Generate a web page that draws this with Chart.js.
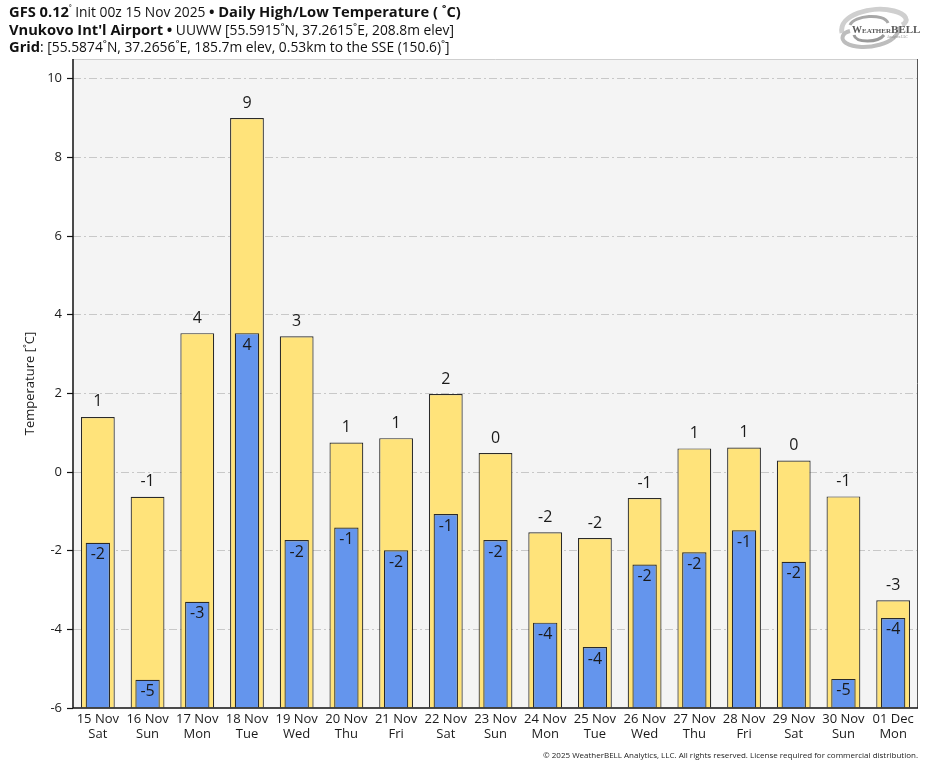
<!DOCTYPE html>
<html>
<head>
<meta charset="utf-8">
<script src="https://cdn.jsdelivr.net/npm/chart.js@4.4.1/dist/chart.umd.min.js"></script>
<style>
  html, body { margin: 0; padding: 0; background: #ffffff; }
  body { width: 935px; height: 768px; position: relative; overflow: hidden; font-family: "Open Sans", "Noto Sans", sans-serif; }
  #wrap { position: absolute; left: 0; top: 0; width: 935px; height: 768px; }
  #hdr { position: absolute; left: 9px; top: 3px; font-size: 13.8px; line-height: 16.5px; color: #111; white-space: nowrap; }
  #hdr b { font-weight: 700; font-size: 14.7px; }
  #hdr sup { font-size: 9px; vertical-align: 5px; line-height: 0; }
  #foot { position: absolute; right: 17px; top: 749px; font-size: 8px; color: #222; white-space: nowrap; }
  #logo { position: absolute; left: 832px; top: 3px; width: 95px; height: 52px; }
</style>
</head>
<body>
<div id="wrap"><canvas id="c" width="935" height="768"></canvas></div>
<div id="hdr">
  <div><b>GFS 0.12</b><sup>˚</sup> Init 00z 15 Nov 2025 <b>•</b> <b>Daily High/Low Temperature ( ˚C)</b></div>
  <div><b>Vnukovo Int'l Airport</b> <b>•</b> UUWW [55.5915˚N, 37.2615˚E, 208.8m elev]</div>
  <div><b>Grid</b>: [55.5874˚N, 37.2656˚E, 185.7m elev, 0.53km to the SSE (150.6)˚]</div>
</div>
<svg id="logo" viewBox="0 0 95 52">
  <path d="M10 30 C 6 12, 40 2, 62 8 C 74 11, 78 18, 70 22" fill="none" stroke="#cfcfcf" stroke-width="5"/>
  <path d="M66 24 C 70 40, 30 50, 14 40 C 8 36, 10 30, 18 28" fill="none" stroke="#bdbdbd" stroke-width="4"/>
  <path d="M18 22 C 22 12, 52 10, 56 20" fill="none" stroke="#a8a8a8" stroke-width="3"/>
  <path d="M52 32 C 46 40, 24 40, 22 32" fill="none" stroke="#9a9a9a" stroke-width="3"/>
  <text x="20" y="30" font-family="Liberation Serif, DejaVu Serif, serif" font-size="10" font-weight="700" fill="#5a5a5a">W<tspan font-size="7">EATHER</tspan><tspan font-size="11">BELL</tspan></text>
  <text x="55" y="35" font-family="Liberation Serif, serif" font-size="3.5" fill="#888">Analytics LLC</text>
</svg>
<div id="foot">© 2025 WeatherBELL Analytics, LLC. All rights reserved. License required for commercial distribution.</div>
<script>
const dates = ["15 Nov","16 Nov","17 Nov","18 Nov","19 Nov","20 Nov","21 Nov","22 Nov","23 Nov","24 Nov","25 Nov","26 Nov","27 Nov","28 Nov","29 Nov","30 Nov","01 Dec"];
const weekdays = ["Sat","Sun","Mon","Tue","Wed","Thu","Fri","Sat","Sun","Mon","Tue","Wed","Thu","Fri","Sat","Sun","Mon"];
const highTemps = [1.40, -0.63, 3.53, 9.00, 3.45, 0.75, 0.86, 1.98, 0.48, -1.53, -1.68, -0.66, 0.60, 0.62, 0.29, -0.62, -3.26];
const lowTemps = [-1.80, -5.28, -3.30, 3.53, -1.73, -1.41, -1.99, -1.07, -1.73, -3.83, -4.45, -2.35, -2.04, -1.48, -2.28, -5.26, -3.71];
const yTicks = [-6, -4, -2, 0, 2, 4, 6, 8, 10];
const yMin = -6, yMax = 10.5;

const labels = dates.map((d, i) => [d, weekdays[i]]);
const fmt = v => { const r = Math.round(v); return (r === 0 ? 0 : r).toString(); };

const framePlugin = {
  id: 'frame',
  beforeDraw(chart) {
    const { ctx, chartArea: a } = chart;
    ctx.save();
    ctx.fillStyle = '#f4f4f4';
    ctx.fillRect(a.left, a.top, a.right - a.left, a.bottom - a.top);
    ctx.restore();
  },
  afterDatasetsDraw(chart) {
    const { ctx, chartArea: a } = chart;
    ctx.save();
    ctx.font = '16px "Open Sans", "Noto Sans", sans-serif';
    ctx.fillStyle = '#1a1a1a';
    ctx.textAlign = 'center';
    ctx.textBaseline = 'middle';
    const hi = chart.getDatasetMeta(1), lo = chart.getDatasetMeta(0);
    hi.data.forEach((el, i) => ctx.fillText(fmt(highTemps[i]), el.x, el.y - 15));
    lo.data.forEach((el, i) => ctx.fillText(fmt(lowTemps[i]), el.x, el.y + 12));
    ctx.lineWidth = 1;
    ctx.strokeStyle = '#cfcfcf';
    ctx.beginPath(); ctx.moveTo(a.left, a.top + 0.5); ctx.lineTo(a.right, a.top + 0.5); ctx.stroke();
    ctx.strokeStyle = '#555';
    ctx.beginPath(); ctx.moveTo(a.right - 0.5, a.top); ctx.lineTo(a.right - 0.5, a.bottom); ctx.stroke();
    ctx.strokeStyle = '#111';
    ctx.lineWidth = 1.5;
    ctx.beginPath(); ctx.moveTo(a.left, a.top); ctx.lineTo(a.left, a.bottom); ctx.lineTo(a.right, a.bottom); ctx.stroke();
    ctx.restore();
  }
};

new Chart(document.getElementById('c'), {
  type: 'bar',
  data: {
    labels: labels,
    datasets: [
      { label: 'Low', data: lowTemps, base: yMin, backgroundColor: '#6495ed', borderColor: '#2a2a2a', borderWidth: 1.2, borderSkipped: 'bottom', barPercentage: 0.49, categoryPercentage: 1.0, grouped: false, order: 0 },
      { label: 'High', data: highTemps, base: yMin, backgroundColor: '#ffe37a', borderColor: '#2a2a2a', borderWidth: 1.2, borderSkipped: 'bottom', barPercentage: 0.68, categoryPercentage: 1.0, grouped: false, order: 1 }
    ]
  },
  options: {
    responsive: false,
    animation: false,
    devicePixelRatio: 1,
    layout: { padding: { top: 59, right: 17, left: 0, bottom: 0 } },
    plugins: { legend: { display: false }, tooltip: { enabled: false } },
    scales: {
      x: {
        grid: { display: false, drawTicks: false },
        border: { display: false },
        ticks: { color: '#1a1a1a', font: { size: 13, family: '"Open Sans", "Noto Sans", sans-serif' }, padding: 3, maxRotation: 0, autoSkip: false },
        afterFit(s) { s.height = 60; }
      },
      y: {
        min: yMin, max: yMax,
        afterBuildTicks(s) { s.ticks = yTicks.map(v => ({ value: v })); },
        ticks: { color: '#1a1a1a', font: { size: 13, family: '"Open Sans", "Noto Sans", sans-serif' }, padding: 5 },
        grid: {
          color: (c) => (c.tick && c.tick.value === yMin) ? 'rgba(0,0,0,0)' : '#c8c8c8',
          lineWidth: 1, tickColor: '#111', tickLength: 6, tickWidth: 1.2
        },
        border: { display: false, dash: [8, 3, 2, 3] },
        title: { display: true, text: 'Temperature [˚C]', color: '#1a1a1a', font: { size: 13, family: '"Open Sans", "Noto Sans", sans-serif' }, padding: { top: 22, bottom: 0 } },
        afterFit(s) { s.width = 73; }
      }
    }
  },
  plugins: [framePlugin]
});
</script>
</body>
</html>
